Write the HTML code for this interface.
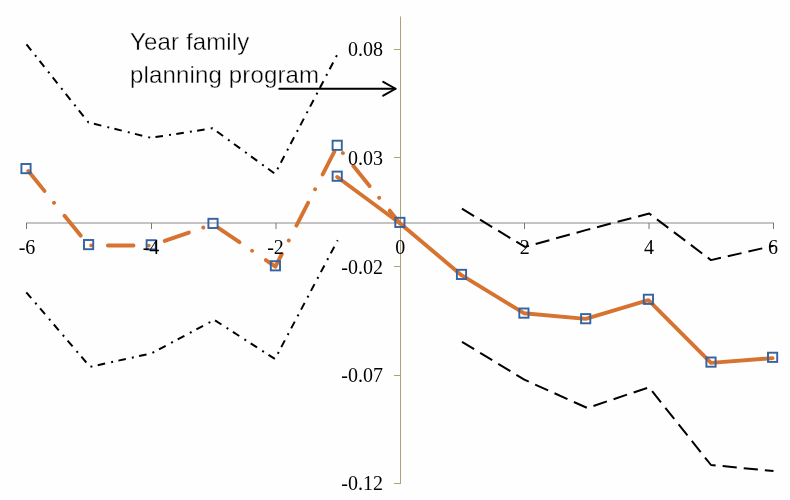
<!DOCTYPE html>
<html>
<head>
<meta charset="utf-8">
<style>
html,body{margin:0;padding:0;background:#fdfefd;}
body{width:790px;height:500px;overflow:hidden;position:relative;}
svg{position:absolute;left:0;top:0;display:block;will-change:transform;}
.ax{font-family:"Liberation Serif",serif;font-size:20px;fill:#000;}
.ann{font-family:"Liberation Sans",sans-serif;font-size:24px;fill:#000;letter-spacing:0.15px;stroke:#fdfefd;stroke-width:0.35px;}
</style>
</head>
<body>
<svg width="790" height="500" viewBox="0 0 790 500">
  <!-- x axis -->
  <g stroke="#777" stroke-width="1" fill="none">
    <line x1="26" y1="223" x2="774" y2="223" stroke="#8a8a8a"/>
    <line x1="26.5" y1="223" x2="26.5" y2="229"/>
    <line x1="151.5" y1="223" x2="151.5" y2="229"/>
    <line x1="276" y1="223" x2="276" y2="229"/>
    <line x1="524.5" y1="223" x2="524.5" y2="229"/>
    <line x1="649" y1="223" x2="649" y2="229"/>
    <line x1="773.5" y1="223" x2="773.5" y2="229"/>
  </g>
  <!-- y axis -->
  <g stroke="#aca279" stroke-width="1" fill="none">
    <line x1="400.5" y1="16.5" x2="400.5" y2="484"/>
    <line x1="394" y1="49.5" x2="400.5" y2="49.5"/>
    <line x1="394" y1="157.5" x2="400.5" y2="157.5"/>
    <line x1="394" y1="266.5" x2="400.5" y2="266.5"/>
    <line x1="394" y1="375.5" x2="400.5" y2="375.5"/>
    <line x1="394" y1="483.5" x2="400.5" y2="483.5"/>
  </g>

  <!-- black CI lines left (dash-dot) -->
  <g stroke="#000" stroke-width="2" fill="none" stroke-linejoin="round">
    <polyline stroke-dasharray="7.6 6.15 2 5.33" points="26.5,44.3 88.5,122.5 151,137.8 212.5,128.3 275,173.8 337.2,54.8"/>
    <polyline stroke-dasharray="7.6 6.15 2 5.44" points="26.3,292.3 90.1,366.9 151.6,353.3 214.3,319.9 275,359 337.7,240.2"/>
  </g>
  <!-- black CI lines right (dashed) -->
  <g stroke="#000" stroke-width="2" fill="none" stroke-dasharray="14.2 7.01" stroke-linejoin="round">
    <polyline points="461.9,208.7 525,246.9 586.6,229.9 649.2,213.5 711,260.1 773.5,245.8"/>
    <polyline points="462,341.8 524.3,379.7 587.3,408 649,387.3 711,465 773.5,471"/>
  </g>

  <!-- orange dash-dot series -->
  <polyline points="26.7,169.0 88.6,245.4 151.2,245.6 213,224.2 275.4,266.6 337.2,146.1 399.9,223.2"
    stroke="#d77331" stroke-width="3.9" fill="none" stroke-linecap="round" stroke-linejoin="round"
    stroke-dasharray="25.6 15.24 0.01 16.69" stroke-dashoffset="-2.57"/>
  <!-- orange solid series -->
  <polyline points="337.2,177.0 399.9,223.2 461.5,275.2 523.9,313.2 585.7,318.9 648.4,300.1 711,362.9 772.6,358.1"
    stroke="#d77331" stroke-width="3.9" fill="none" stroke-linecap="round" stroke-linejoin="round"/>

  <!-- markers -->
  <g stroke="#3562a0" stroke-width="1.9" fill="none">
    <rect x="21.4" y="164.0" width="9.2" height="9.2"/>
    <rect x="84.0" y="240.0" width="9.2" height="9.2"/>
    <rect x="146.6" y="240.2" width="9.2" height="9.2"/>
    <rect x="208.4" y="218.8" width="9.2" height="9.2"/>
    <rect x="270.8" y="261.2" width="9.2" height="9.2"/>
    <rect x="332.6" y="140.7" width="9.2" height="9.2"/>
    <rect x="332.6" y="171.6" width="9.2" height="9.2"/>
    <rect x="395.3" y="217.8" width="9.2" height="9.2"/>
    <rect x="456.9" y="269.8" width="9.2" height="9.2"/>
    <rect x="519.3" y="308.5" width="9.2" height="9.2"/>
    <rect x="581.1" y="314.1" width="9.2" height="9.2"/>
    <rect x="643.8" y="294.7" width="9.2" height="9.2"/>
    <rect x="706.4" y="357.5" width="9.2" height="9.2"/>
    <rect x="768.0" y="352.7" width="9.2" height="9.2"/>
  </g>

  <!-- y labels -->
  <g class="ax" text-anchor="end">
    <text x="383" y="56.3">0.08</text>
    <text x="383" y="164.8">0.03</text>
    <text x="383" y="273.5">-0.02</text>
    <text x="383" y="382.2">-0.07</text>
    <text x="383" y="490.3">-0.12</text>
  </g>
  <!-- x labels -->
  <g class="ax" text-anchor="middle">
    <text x="27" y="253.5">-6</text>
    <text x="151" y="253.5">-4</text>
    <text x="275.5" y="253.5">-2</text>
    <text x="400.2" y="253.5">0</text>
    <text x="524.7" y="253.5">2</text>
    <text x="649.1" y="253.5">4</text>
    <text x="773" y="253.5">6</text>
  </g>

  <!-- annotation -->
  <text class="ann" x="130" y="49.6">Year family</text>
  <text class="ann" x="130" y="82.8">planning program</text>
  <g stroke="#000" stroke-width="2" fill="none" stroke-linecap="round" stroke-linejoin="round">
    <line x1="279.3" y1="88.75" x2="395.3" y2="88.75"/>
    <polyline points="383.2,81.8 395.6,88.75 383.2,95.7"/>
  </g>
</svg>
</body>
</html>
